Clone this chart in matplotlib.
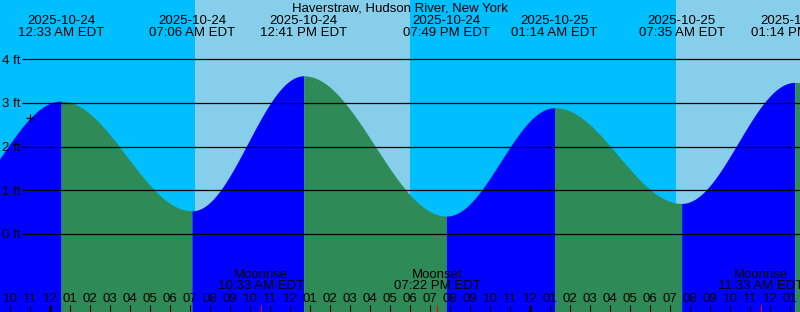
import numpy as np
import pandas as pd
import matplotlib
matplotlib.use('Agg')
import matplotlib.pyplot as plt

# Station and tide extremes
station = 'Haverstraw, Hudson River, New York'
tide_times = ['2025-10-24 00:33', '2025-10-24 07:06', '2025-10-24 12:41',
              '2025-10-24 19:49', '2025-10-25 01:14', '2025-10-25 07:35',
              '2025-10-25 13:14']
tide_heights = [3.04, 0.53, 3.62, 0.41, 2.89, 0.70, 3.47]

# extremes just outside the visible window (estimated)
edge_times = ['2025-10-23 18:25', '2025-10-25 19:50']
edge_heights = [0.40, 0.45]

# sun and moon events
sun_times = ['2025-10-24 07:15', '2025-10-24 18:00', '2025-10-25 07:18']
moon_names = ['Moonrise', 'Moonset', 'Moonrise']
moon_times = ['2025-10-24 10:33', '2025-10-24 19:22', '2025-10-25 11:33']
now_time = '2025-10-23 23:00'
levels = [0, 1, 2, 3, 4]

# chart geometry
W, H = 800, 312
PX_HOUR = 20.0
PX_FT = 43.7
MIDNIGHT_X = 50.0
ZERO_Y = 234.0

base = pd.Timestamp('2025-10-24 00:00')


def hours(s):
    return (pd.Timestamp(s) - base).total_seconds() / 3600.0


tmin = -MIDNIGHT_X / PX_HOUR
tmax = tmin + W / PX_HOUR
ytop = ZERO_Y / PX_FT
ybot = ytop - H / PX_FT


def fy(py):
    # pixel row -> axes fraction
    return 1 - py / H


fig = plt.figure(figsize=(8, 3.12), dpi=100)
ax = fig.add_axes([0, 0, 1, 1])
ax.set_xlim(tmin, tmax)
ax.set_ylim(ybot, ytop)
ax.axis('off')
plt.rcParams['font.family'] = ['Liberation Sans', 'DejaVu Sans']
fs = 9.5
xax = ax.get_xaxis_transform()

# day / night background
night = '#00BFFF'
day = '#87CEEB'
sun_t = [hours(s) for s in sun_times]
bounds = [tmin] + sun_t + [tmax]
for i in range(len(bounds) - 1):
    ax.axvspan(bounds[i], bounds[i + 1], color=night if i % 2 == 0 else day,
               lw=0, zorder=0)

# tide curve, cosine between extremes
all_t = [hours(edge_times[0])] + [hours(s) for s in tide_times] + [hours(edge_times[1])]
all_h = [edge_heights[0]] + tide_heights + [edge_heights[1]]


def tide_at(t):
    for i in range(len(all_t) - 1):
        ta, tb = all_t[i], all_t[i + 1]
        if ta <= t <= tb:
            ha, hb = all_h[i], all_h[i + 1]
            return (ha + hb) / 2 + (ha - hb) / 2 * np.cos(np.pi * (t - ta) / (tb - ta))
    return np.nan


for i in range(len(all_t) - 1):
    ta, tb = all_t[i], all_t[i + 1]
    ha, hb = all_h[i], all_h[i + 1]
    t = np.linspace(ta, tb, 300)
    h = (ha + hb) / 2 + (ha - hb) / 2 * np.cos(np.pi * (t - ta) / (tb - ta))
    ax.fill_between(t, h, ybot, color='#0000FF' if hb > ha else '#2E8B57',
                    lw=0, zorder=1)

# depth lines and labels
ax.hlines(levels, tmin + 22 / PX_HOUR, tmax, color='black', lw=0.9, zorder=2)
for lv in levels:
    ly = ZERO_Y - lv * PX_FT
    ax.text(tmin + 2.5 / PX_HOUR, fy(ly + 4.4), f'{lv} ft', transform=xax,
            ha='left', va='baseline', fontsize=fs, zorder=3)

# current time marker
tn = hours(now_time)
ax.plot([tn], [tide_at(tn)], marker='+', color='black', ms=6, mew=0.9, zorder=3)

# title and extreme labels
ax.text(0.5, fy(11.7), station, transform=ax.transAxes, ha='center',
        va='baseline', fontsize=fs)
for s in tide_times:
    ts = pd.Timestamp(s)
    t = hours(s)
    ax.text(t, fy(24), ts.strftime('%Y-%m-%d'), transform=xax, ha='center',
            va='baseline', fontsize=fs)
    ax.text(t, fy(35.7), ts.strftime('%I:%M %p') + ' EDT', transform=xax,
            ha='center', va='baseline', fontsize=fs)

# moon events
for name, s in zip(moon_names, moon_times):
    ts = pd.Timestamp(s)
    t = hours(s)
    ax.text(t, fy(278), name, transform=xax, ha='center', va='baseline', fontsize=fs)
    ax.text(t, fy(289.3), ts.strftime('%I:%M %p') + ' EDT', transform=xax,
            ha='center', va='baseline', fontsize=fs)
    ax.vlines(t, fy(312), fy(304.5), transform=xax, color='red', lw=0.8, zorder=4)

# hour ticks and labels
hour_ticks = np.arange(np.ceil(tmin), np.floor(tmax) + 1)
for t in hour_ticks:
    hh = int(t) % 24
    lab = f'{(hh - 1) % 12 + 1:02d}'
    ax.text(t, fy(301.7), lab, transform=xax, ha='center', va='baseline', fontsize=fs)
    ax.vlines(t, fy(312), fy(304.5), transform=xax, color='black',
              lw=1.9 if hh == 0 else 0.8, zorder=4)

plt.savefig('out.png', dpi=100)
